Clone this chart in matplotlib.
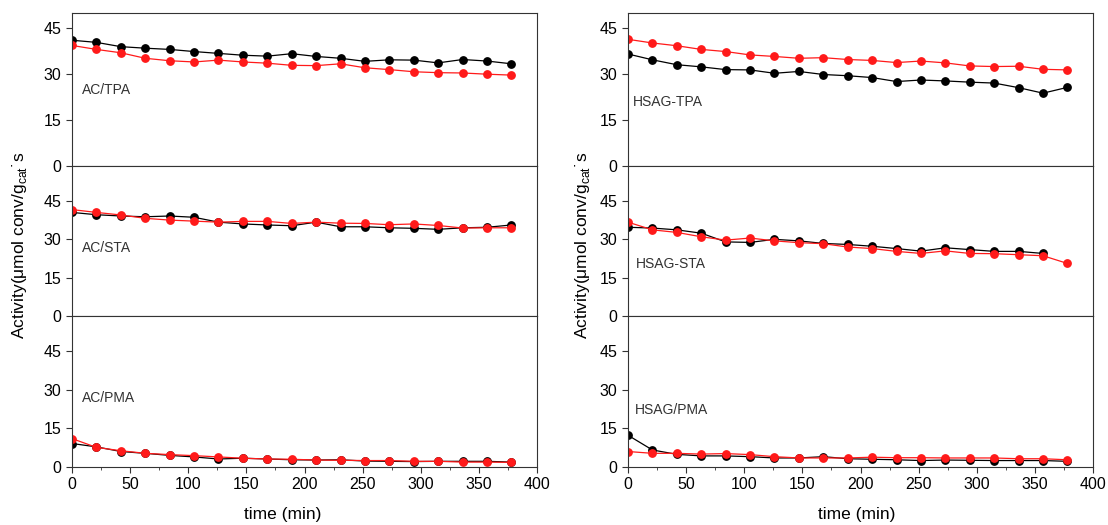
import numpy as np
import matplotlib
matplotlib.use("Agg")
import matplotlib.pyplot as plt
from matplotlib.ticker import MultipleLocator

plt.rcParams['font.family'] = ['Liberation Sans', 'DejaVu Sans']

# time points (min)
time = [0, 21, 42, 63, 84, 105, 126, 147, 168, 189, 210, 231, 252, 273, 294, 315, 336, 357, 378]

# AC catalysts
ac_tpa_black = [41.1, 40.4, 39.0, 38.5, 38.1, 37.4, 36.8, 36.2, 35.9, 36.7, 35.8, 35.2, 34.2, 34.7, 34.6, 33.7, 34.8, 34.3, 33.4]
ac_tpa_red = [39.4, 38.1, 37.0, 35.2, 34.4, 34.0, 34.6, 34.0, 33.6, 32.9, 32.8, 33.4, 32.1, 31.5, 30.8, 30.5, 30.4, 30.0, 29.7]
ac_sta_black = [40.4, 39.5, 39.0, 38.7, 39.0, 38.5, 36.6, 35.9, 35.5, 35.2, 36.6, 34.8, 34.8, 34.4, 34.2, 33.8, 34.4, 34.6, 35.5]
ac_sta_red = [41.5, 40.4, 39.4, 38.1, 37.4, 37.0, 36.6, 36.9, 36.9, 36.1, 36.6, 36.2, 36.1, 35.6, 35.9, 35.3, 34.3, 34.4, 34.4]
ac_pma_black = [9.1, 7.8, 6.0, 5.3, 4.5, 3.9, 3.1, 3.4, 3.1, 2.8, 2.7, 2.8, 2.3, 2.2, 2.1, 2.2, 2.2, 2.2, 1.9]
ac_pma_red = [11.0, 7.6, 6.3, 5.3, 4.8, 4.4, 3.9, 3.4, 3.1, 3.0, 2.7, 2.6, 2.5, 2.5, 2.2, 2.2, 1.9, 1.9, 1.8]

# HSAG catalysts
hsag_tpa_black = [36.6, 34.7, 33.1, 32.4, 31.5, 31.4, 30.3, 30.9, 29.9, 29.5, 28.9, 27.6, 28.1, 27.8, 27.4, 27.1, 25.6, 23.8, 25.7]
hsag_tpa_red = [41.4, 40.2, 39.3, 38.1, 37.4, 36.3, 35.8, 35.2, 35.4, 34.8, 34.5, 33.8, 34.3, 33.7, 32.7, 32.5, 32.6, 31.6, 31.4]
hsag_sta_black = [34.6, 34.3, 33.6, 32.3, 28.9, 28.7, 29.9, 29.3, 28.3, 27.9, 27.2, 26.3, 25.3, 26.6, 25.9, 25.2, 25.2, 24.4]  # no point at 378
hsag_sta_red = [36.6, 33.6, 32.6, 30.9, 29.6, 30.4, 29.3, 28.6, 28.2, 26.9, 26.3, 25.2, 24.4, 25.4, 24.4, 24.3, 23.9, 23.5, 20.5]
hsag_pma_black = [12.3, 6.6, 4.9, 4.3, 4.3, 4.0, 3.5, 3.5, 4.0, 3.2, 3.0, 2.8, 2.5, 2.7, 2.6, 2.5, 2.5, 2.5, 2.2]
hsag_pma_red = [6.0, 5.3, 5.3, 5.0, 5.2, 4.8, 4.0, 3.5, 3.5, 3.5, 3.8, 3.6, 3.6, 3.5, 3.5, 3.5, 3.2, 3.2, 2.8]

panels_left = [("AC/TPA", ac_tpa_black, ac_tpa_red, 50, (0.022, 0.50)),
               ("AC/STA", ac_sta_black, ac_sta_red, 58.5, (0.022, 0.45)),
               ("AC/PMA", ac_pma_black, ac_pma_red, 58.5, (0.022, 0.46))]
panels_right = [("HSAG-TPA", hsag_tpa_black, hsag_tpa_red, 50, (0.011, 0.42)),
                ("HSAG-STA", hsag_sta_black, hsag_sta_red, 58.5, (0.017, 0.35)),
                ("HSAG/PMA", hsag_pma_black, hsag_pma_red, 58.5, (0.015, 0.375))]

fig = plt.figure(figsize=(11.08, 5.25), dpi=100)

col_left = [72/1108, 628/1108]
width = 465/1108
bottoms = [(525-166)/525, (525-316)/525, (525-467)/525]
heights = [153/525, 150/525, 151/525]

for c, panels in enumerate([panels_left, panels_right]):
    for r, (name, black, red, ymax, pos) in enumerate(panels):
        ax = fig.add_axes([col_left[c], bottoms[r], width, heights[r]])
        ax.plot(time[:len(black)], black, color='black', marker='o', markersize=5.3, linewidth=0.9)
        ax.plot(time[:len(red)], red, color='#ff1a1a', marker='o', markersize=5.3, linewidth=0.9)
        ax.set_xlim(0, 400)
        ax.set_ylim(0, ymax)
        ax.set_yticks([0, 15, 30, 45])
        ax.text(pos[0], pos[1], name, transform=ax.transAxes, fontsize=10,
                color='#333333', ha='left', va='center')
        ax.tick_params(axis='y', direction='out', length=4, labelsize=11.5, color='#333333')
        for sp in ax.spines.values():
            sp.set_color('#333333')
        if r == 2:
            ax.xaxis.set_major_locator(MultipleLocator(50))
            ax.xaxis.set_minor_locator(MultipleLocator(25))
            ax.tick_params(axis='x', which='major', direction='out', length=4, labelsize=11.5, color='#333333')
            ax.tick_params(axis='x', which='minor', direction='out', length=2, color='#333333')
        else:
            ax.set_xticks([])

# axis labels
ylab = 'Activity(μmol conv/g$_{\\mathregular{cat}}$˙s'
fig.text(20/1108, 1-245/525, ylab, rotation=90, ha='center', va='center', fontsize=12.5)
fig.text(583/1108, 1-245/525, ylab, rotation=90, ha='center', va='center', fontsize=12.5)
fig.text(283/1108, 1-514/525, 'time (min)', ha='center', va='center', fontsize=12.5)
fig.text(857/1108, 1-514/525, 'time (min)', ha='center', va='center', fontsize=12.5)

fig.savefig('out.png', dpi=100)
